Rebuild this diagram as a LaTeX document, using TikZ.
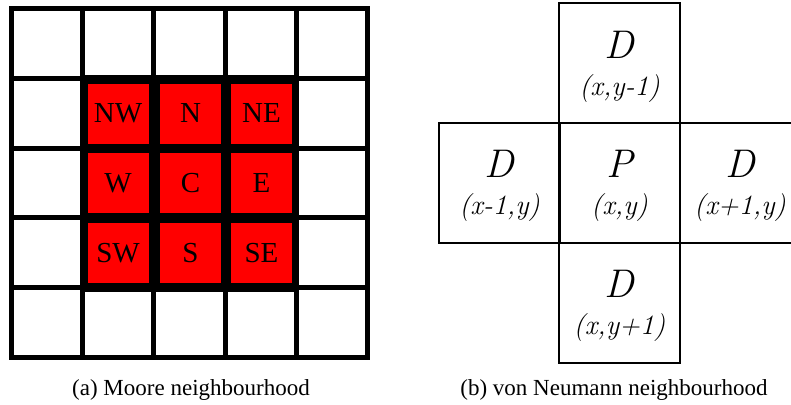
\documentclass[tikz,border=0pt]{standalone}
\usepackage{fontspec}
\newfontfamily\timesfont{Liberation Serif}
\begin{document}
\begin{tikzpicture}[x=1pt, y=-1pt,
    gridline/.style={line width=5pt, line cap=rect},
    moorecell/.style={fill=red, minimum width=61pt, minimum height=60pt, inner sep=0pt,
      font=\timesfont\fontsize{29}{29}\selectfont},
    vnbox/.style={draw, line width=2pt, minimum width=121pt, minimum height=120pt, inner sep=0pt},
    bigletter/.style={anchor=base, inner sep=0pt, font=\fontsize{40}{40}\selectfont\itshape},
    coordtext/.style={anchor=base, inner sep=0pt, font=\fontsize{28}{28}\selectfont\itshape},
    captiontext/.style={anchor=base, inner sep=0pt, font=\timesfont\fontsize{23}{23}\selectfont}]
            \useasboundingbox (0,0) rectangle (791,404);
            \fill[white] (0,0) rectangle (791,404);
            \clip (0,0) rectangle (791,404);

            % (a) Moore neighbourhood: 5x5 grid
            \foreach \i in {0,...,5} {
              \draw[gridline] ({11.5+71.2*\i},8.5) -- ({11.5+71.2*\i},357.5);
              \draw[gridline] (11.5,{8.5+69.8*\i}) -- (367.5,{8.5+69.8*\i});
            }
            % Neighbourhood block
            \fill (80,75) rectangle (299,292);
            \node[moorecell] (nw) at (118,113.5) {NW};
            \node[moorecell] (n) at (190.5,113.5) {N};
            \node[moorecell] (ne) at (261.5,113.5) {NE};
            \node[moorecell] (w) at (118,183) {W};
            \node[moorecell] (c) at (190.5,183) {C};
            \node[moorecell] (e) at (261.5,183) {E};
            \node[moorecell] (sw) at (118,253) {SW};
            \node[moorecell] (s) at (190.5,253) {S};
            \node[moorecell] (se) at (261.5,253) {SE};

            % (b) von Neumann neighbourhood
            \node[vnbox] (top) at (619.5,63) {};
            \node[vnbox] (left) at (499.5,182.5) {};
            \node[vnbox] (mid) at (619.5,182.5) {};
            \node[vnbox] (right) at (740,182.5) {};
            \node[vnbox] (bottom) at (619.5,302.5) {};

            % Cell texts
            \node[bigletter] (topd) at ([yshift=-56pt]top.north) {D};
            \node[coordtext] (topxy) at ([yshift=-93pt]top.north) {(x,y-1)};
            \node[bigletter] (leftd) at ([yshift=-56pt]left.north) {D};
            \node[coordtext] (leftxy) at ([yshift=-93pt]left.north) {(x-1,y)};
            \node[bigletter] (midp) at ([yshift=-56pt]mid.north) {P};
            \node[coordtext] (midxy) at ([yshift=-93pt]mid.north) {(x,y)};
            \node[bigletter] (rightd) at ([yshift=-56pt]right.north) {D};
            \node[coordtext] (rightxy) at ([yshift=-93pt]right.north) {(x+1,y)};
            \node[bigletter] (bottomd) at ([yshift=-56pt]bottom.north) {D};
            \node[coordtext] (bottomxy) at ([yshift=-93pt]bottom.north) {(x,y+1)};

            % Captions
            \node[captiontext] (capa) at (191,395) {(a) Moore neighbourhood};
            \node[captiontext] (capb) at (614,395) {(b) von Neumann neighbourhood};
          \end{tikzpicture}
\end{document}
